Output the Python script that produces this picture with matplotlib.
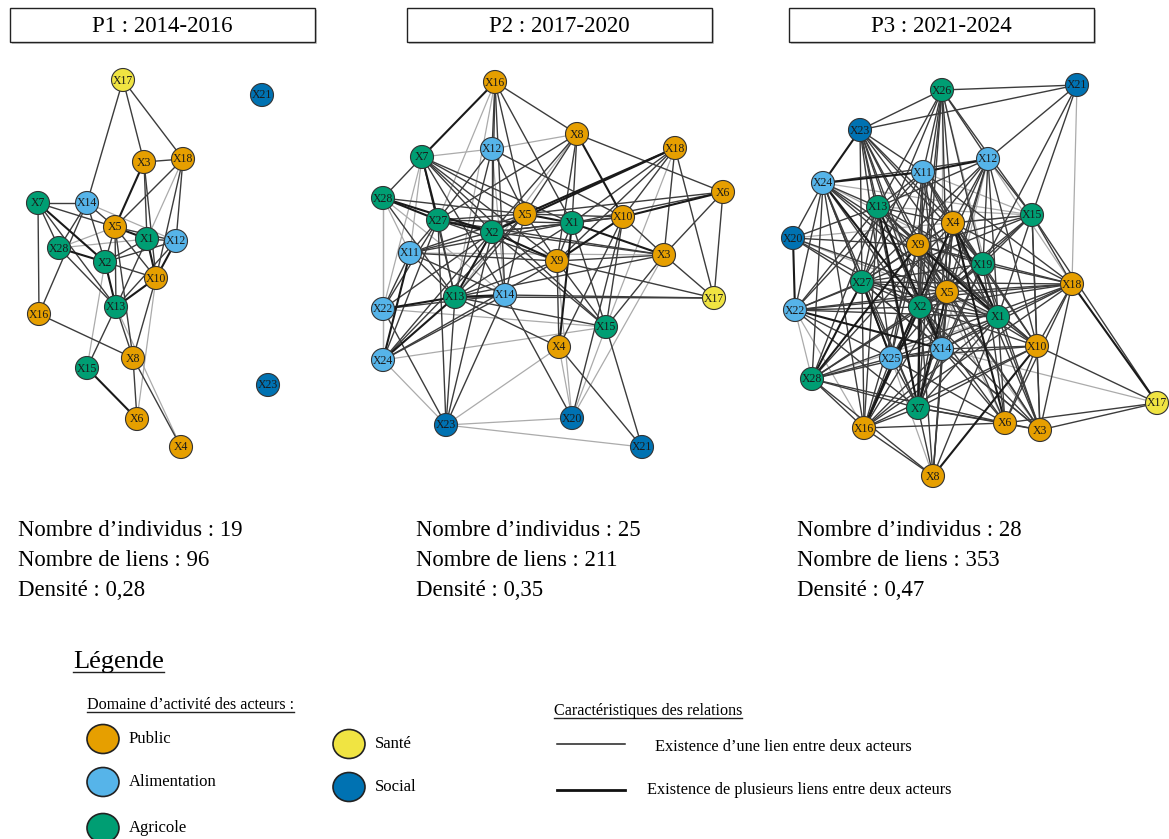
import matplotlib
matplotlib.use("Agg")
import matplotlib.pyplot as plt
from matplotlib.collections import LineCollection
from matplotlib.patches import Circle, Ellipse, Rectangle

plt.rcParams['font.family'] = ['Liberation Serif', 'DejaVu Serif']

# domaine d'activite de chaque acteur
domain_colors = {"Public": "#E69F00", "Alimentation": "#56B4E9", "Agricole": "#009E73",
                 "Santé": "#F0E442", "Social": "#0072B2"}
actor_domain = {}
for n in ["X3", "X4", "X5", "X6", "X8", "X9", "X10", "X16", "X18"]:
    actor_domain[n] = "Public"
for n in ["X11", "X12", "X14", "X22", "X24", "X25"]:
    actor_domain[n] = "Alimentation"
for n in ["X1", "X2", "X7", "X13", "X15", "X19", "X26", "X27", "X28"]:
    actor_domain[n] = "Agricole"
actor_domain["X17"] = "Santé"
for n in ["X20", "X21", "X23"]:
    actor_domain[n] = "Social"

periods = ["P1 : 2014-2016", "P2 : 2017-2020", "P3 : 2021-2024"]
nb_individus = [19, 25, 28]
nb_liens = [96, 211, 353]
densite = ["0,28", "0,35", "0,47"]

# ---- P1 ----
p1_nodes = ["X17", "X21", "X3", "X18", "X7", "X14", "X5", "X1", "X12", "X28",
            "X2", "X10", "X13", "X16", "X8", "X15", "X23", "X6", "X4"]
p1_x = [123, 262, 144, 183, 38, 87, 115, 147, 176, 59, 105, 156, 116, 39, 133, 87, 268, 137, 181]
p1_y = [80, 95, 162, 159, 203, 203, 227, 239, 241, 248, 262, 278, 307, 314, 358, 368, 385, 419, 447]
p1_links = ["X17-X14", "X17-X3", "X17-X18", "X3-X18", "X3-X1", "X3-X10", "X18-X5", "X18-X12",
            "X18-X10", "X7-X14", "X7-X28", "X7-X16", "X7-X5", "X7-X13", "X14-X5", "X14-X28",
            "X14-X16", "X14-X2", "X5-X2", "X5-X13", "X5-X10", "X5-X12", "X28-X13", "X2-X1",
            "X2-X10", "X1-X12", "X1-X13", "X12-X13", "X10-X8", "X13-X15", "X13-X8", "X16-X8",
            "X8-X6", "X8-X4", "X5-X8", "X2-X12"]
p1_strong = ["X7-X2", "X5-X1", "X5-X3", "X28-X2", "X2-X13", "X1-X10", "X12-X10", "X10-X13",
             "X15-X6"]
p1_faint = ["X18-X1", "X14-X12", "X5-X28", "X28-X1", "X2-X15", "X10-X6", "X13-X4"]

# ---- P2 ----
p2_nodes = ["X16", "X8", "X18", "X7", "X12", "X6", "X28", "X27", "X5", "X1", "X10", "X2", "X11",
            "X9", "X3", "X13", "X14", "X17", "X22", "X15", "X4", "X24", "X23", "X20", "X21"]
p2_x = [495, 577, 675, 422, 492, 723, 383, 438, 525, 572, 623, 492, 410,
        557, 664, 455, 505, 714, 383, 606, 559, 383, 446, 572, 642]
p2_y = [82, 134, 148, 157, 149, 192, 198, 220, 214, 223, 217, 232, 253,
        261, 255, 297, 295, 298, 309, 327, 347, 360, 425, 418, 447]
p2_links = ["X16-X12", "X16-X2", "X16-X14", "X16-X5", "X16-X1", "X16-X8",
            "X8-X1", "X8-X2", "X8-X27", "X8-X9", "X8-X6", "X8-X5",
            "X18-X1", "X18-X9", "X18-X10", "X18-X3", "X18-X17",
            "X6-X5", "X6-X1", "X6-X3", "X6-X17",
            "X7-X28", "X7-X2", "X7-X5", "X7-X9", "X7-X13", "X7-X14", "X7-X15", "X7-X1",
            "X12-X2", "X12-X13", "X12-X5", "X12-X10", "X12-X27",
            "X28-X5", "X28-X13",
            "X27-X5", "X27-X1", "X27-X13", "X27-X11", "X27-X23", "X27-X22", "X27-X24", "X27-X9",
            "X27-X3", "X5-X2", "X5-X13", "X5-X9", "X5-X11", "X5-X10", "X5-X14", "X5-X24",
            "X1-X2", "X1-X10", "X1-X9", "X1-X18", "X1-X15", "X1-X13", "X1-X11",
            "X10-X3", "X10-X15", "X10-X4", "X10-X20", "X10-X2",
            "X2-X11", "X2-X22", "X2-X24", "X2-X15", "X2-X3", "X2-X14", "X2-X23",
            "X11-X13", "X11-X22", "X11-X9", "X11-X14",
            "X9-X13", "X9-X4", "X9-X15", "X9-X17", "X9-X3", "X9-X24",
            "X3-X17", "X3-X15", "X3-X13",
            "X13-X23", "X13-X15", "X13-X4", "X13-X17",
            "X14-X17", "X14-X23", "X14-X20", "X14-X24", "X14-X22",
            "X22-X23", "X15-X21", "X4-X21"]
p2_strong = ["X16-X7", "X8-X10", "X18-X5", "X18-X2", "X6-X10", "X7-X27", "X28-X27", "X28-X2",
             "X27-X2", "X5-X1", "X1-X3", "X1-X4", "X10-X9", "X2-X13", "X13-X14", "X13-X22",
             "X11-X24", "X13-X24", "X2-X9"]
p2_faint = ["X16-X27", "X8-X12", "X8-X13", "X7-X12", "X7-X11", "X7-X22", "X28-X11", "X28-X14",
            "X28-X22", "X28-X24", "X11-X3", "X3-X20", "X22-X15", "X24-X23", "X24-X15",
            "X4-X23", "X23-X20", "X23-X21", "X20-X9", "X18-X15", "X16-X13", "X12-X14",
            "X22-X24", "X4-X20", "X15-X20"]

# ---- P3 ----
p3_nodes = ["X26", "X21", "X23", "X12", "X11", "X24", "X13", "X15", "X4", "X20", "X9", "X19",
            "X27", "X18", "X5", "X2", "X22", "X1", "X10", "X14", "X25", "X28", "X7", "X17",
            "X16", "X6", "X3", "X8"]
p3_x = [942, 1077, 860, 988, 923, 823, 878, 1032, 953, 793, 918, 983,
        862, 1072, 947, 920, 795, 998, 1037, 942, 891, 812, 918, 1157,
        864, 1005, 1040, 933]
p3_y = [90, 85, 130, 159, 172, 183, 207, 215, 223, 238, 245, 264,
        282, 284, 292, 307, 310, 317, 346, 349, 358, 379, 408, 403,
        428, 423, 430, 476]
p3_links = ["X26-X23", "X26-X21", "X26-X11", "X26-X13", "X26-X4", "X26-X2", "X26-X9", "X26-X12",
            "X26-X15", "X26-X19", "X26-X5", "X26-X27", "X26-X7",
            "X21-X23", "X21-X12", "X21-X15", "X21-X19",
            "X23-X13", "X23-X11", "X23-X9", "X23-X2", "X23-X27", "X23-X5", "X23-X1", "X23-X14",
            "X23-X25", "X23-X7", "X23-X19", "X23-X4",
            "X12-X24", "X12-X13", "X12-X4", "X12-X9", "X12-X2", "X12-X5", "X12-X19", "X12-X1",
            "X12-X15", "X12-X10", "X12-X27", "X12-X7",
            "X11-X13", "X11-X27", "X11-X2", "X11-X9", "X11-X4", "X11-X5", "X11-X19", "X11-X18",
            "X11-X1", "X11-X14", "X11-X25", "X11-X7", "X11-X22",
            "X24-X20", "X24-X22", "X24-X13", "X24-X27", "X24-X9", "X24-X5", "X24-X14", "X24-X25",
            "X24-X7", "X24-X16", "X24-X28", "X24-X1",
            "X13-X27", "X13-X2", "X13-X9", "X13-X4", "X13-X5", "X13-X19", "X13-X1", "X13-X10",
            "X13-X28", "X13-X16", "X13-X20", "X13-X22",
            "X15-X19", "X15-X18", "X15-X4", "X15-X9", "X15-X2", "X15-X5", "X15-X1", "X15-X10",
            "X15-X3", "X15-X17", "X15-X22",
            "X4-X9", "X4-X19", "X4-X2", "X4-X5", "X4-X10", "X4-X14", "X4-X7", "X4-X8", "X4-X3",
            "X4-X28", "X4-X27", "X4-X18",
            "X20-X27", "X20-X2", "X20-X9", "X20-X5",
            "X9-X27", "X9-X2", "X9-X5", "X9-X19", "X9-X10", "X9-X14", "X9-X25", "X9-X7", "X9-X3",
            "X9-X18", "X9-X16",
            "X19-X2", "X19-X5", "X19-X1", "X19-X10", "X19-X18", "X19-X14", "X19-X6", "X19-X3",
            "X19-X27", "X19-X7",
            "X27-X22", "X27-X2", "X27-X5", "X27-X1", "X27-X7", "X27-X16", "X27-X14", "X27-X3",
            "X27-X18",
            "X18-X5", "X18-X2", "X18-X1", "X18-X10", "X18-X3", "X18-X6", "X18-X14", "X18-X28",
            "X18-X22", "X18-X16",
            "X5-X2", "X5-X1", "X5-X14", "X5-X25", "X5-X6", "X5-X3", "X5-X10", "X5-X16", "X5-X28",
            "X5-X8", "X5-X22",
            "X2-X22", "X2-X1", "X2-X14", "X2-X25", "X2-X28", "X2-X8", "X2-X6", "X2-X3", "X2-X10",
            "X22-X1", "X22-X25", "X22-X7",
            "X1-X10", "X1-X14", "X1-X6", "X1-X3", "X1-X16", "X1-X7", "X1-X8", "X1-X25",
            "X10-X6", "X10-X3", "X10-X14", "X10-X7", "X10-X16", "X10-X25", "X10-X17",
            "X14-X25", "X14-X7", "X14-X6", "X14-X3", "X14-X16", "X14-X28", "X14-X8",
            "X25-X7", "X25-X16", "X25-X28", "X25-X6",
            "X28-X7", "X28-X16", "X28-X8", "X28-X6",
            "X7-X16", "X7-X8", "X7-X6", "X7-X3",
            "X17-X3", "X17-X6", "X16-X8", "X16-X6", "X6-X3"]
p3_strong = ["X11-X24", "X20-X22", "X11-X12", "X24-X2", "X9-X1", "X4-X1", "X2-X7", "X5-X7",
             "X28-X9", "X16-X2", "X8-X10", "X22-X14", "X27-X25", "X18-X17", "X13-X7", "X23-X24",
             "X4-X16", "X13-X14", "X27-X28", "X4-X6"]
p3_faint = ["X24-X15", "X24-X19", "X20-X15", "X20-X1", "X13-X15", "X11-X15", "X12-X14",
            "X26-X14", "X26-X1", "X21-X18", "X22-X16", "X22-X28", "X25-X8", "X14-X17", "X1-X28",
            "X9-X6", "X19-X28", "X24-X10", "X12-X18", "X13-X3"]

fig = plt.figure(figsize=(11.69, 8.39), dpi=100)
ax = fig.add_axes([0, 0, 1, 1])
ax.set_xlim(0, 1169)
ax.set_ylim(839, 0)
ax.axis('off')


def draw_network(nodes, xs, ys, links, strong, faint):
    pos = {n: (x, y) for n, x, y in zip(nodes, xs, ys)}
    seen = set()
    for group, color, lw in [(faint, '#ababab', 0.9), (links, '#3c3c3c', 1.0), (strong, '#1a1a1a', 1.5)]:
        segs = []
        for e in group:
            a, b = e.split('-')
            key = frozenset((a, b))
            if key in seen:
                continue
            seen.add(key)
            segs.append([pos[a], pos[b]])
        ax.add_collection(LineCollection(segs, colors=color, linewidths=lw, zorder=1))
    for n in nodes:
        ax.add_patch(Circle(pos[n], 11.5, facecolor=domain_colors[actor_domain[n]],
                            edgecolor='#333333', lw=0.8, zorder=3))
        ax.text(pos[n][0], pos[n][1] + 0.5, n, ha='center', va='center', fontsize=8.5,
                color='#1a1a1a', zorder=4)


draw_network(p1_nodes, p1_x, p1_y, p1_links, p1_strong, p1_faint)
draw_network(p2_nodes, p2_x, p2_y, p2_links, p2_strong, p2_faint)
draw_network(p3_nodes, p3_x, p3_y, p3_links, p3_strong, p3_faint)

# titres des periodes et statistiques
box_left = [10, 407, 789]
stat_left = [18, 416, 797]
for i in range(3):
    ax.add_patch(Rectangle((box_left[i] + 2, 10), 305, 34, facecolor='#c8c8c8', edgecolor='none', zorder=0))
    ax.add_patch(Rectangle((box_left[i], 8), 305, 34, facecolor='white', edgecolor='#222222', lw=1.0, zorder=1))
    ax.text(box_left[i] + 152.5, 26, periods[i], ha='center', va='center', fontsize=16.5, zorder=2)
    ax.text(stat_left[i], 530, f"Nombre d’individus : {nb_individus[i]}", va='center', fontsize=16.4)
    ax.text(stat_left[i], 560, f"Nombre de liens : {nb_liens[i]}", va='center', fontsize=16.4)
    ax.text(stat_left[i], 591, f"Densité : {densite[i]}", va='center', fontsize=16.4)

# legende
underlined = [ax.text(73, 662, "Légende", va='center', fontsize=19),
              ax.text(87, 705, "Domaine d’activité des acteurs :", va='center', fontsize=11.6),
              ax.text(554, 711, "Caractéristiques des relations", va='center', fontsize=11.6)]

legend_domains = ["Public", "Alimentation", "Agricole", "Santé", "Social"]
legend_cx = [103, 103, 103, 349, 349]
legend_cy = [739, 782, 828, 744, 787]
for name, cx, cy in zip(legend_domains, legend_cx, legend_cy):
    ax.add_patch(Ellipse((cx, cy), 32, 29, facecolor=domain_colors[name], edgecolor='#222222', lw=1.2))
    ax.text(cx + 26, cy, name, va='center', fontsize=12)

ax.plot([557, 625], [744, 744], color='#222222', lw=1.1)
ax.plot([557, 625], [790, 790], color='#111111', lw=2.0)
ax.text(655, 747, "Existence d’une lien entre deux acteurs", va='center', fontsize=11.8)
ax.text(647, 790, "Existence de plusieurs liens entre deux acteurs", va='center', fontsize=11.8)

fig.canvas.draw()
inv = ax.transData.inverted()
for t in underlined:
    bb = t.get_window_extent()
    (x0, y0), (x1, y1) = inv.transform([(bb.x0, bb.y0), (bb.x1, bb.y1)])
    ax.plot([x0, x1], [y0 - 1, y0 - 1], color='#222222', lw=1.0)

fig.savefig("out.png", dpi=100)
